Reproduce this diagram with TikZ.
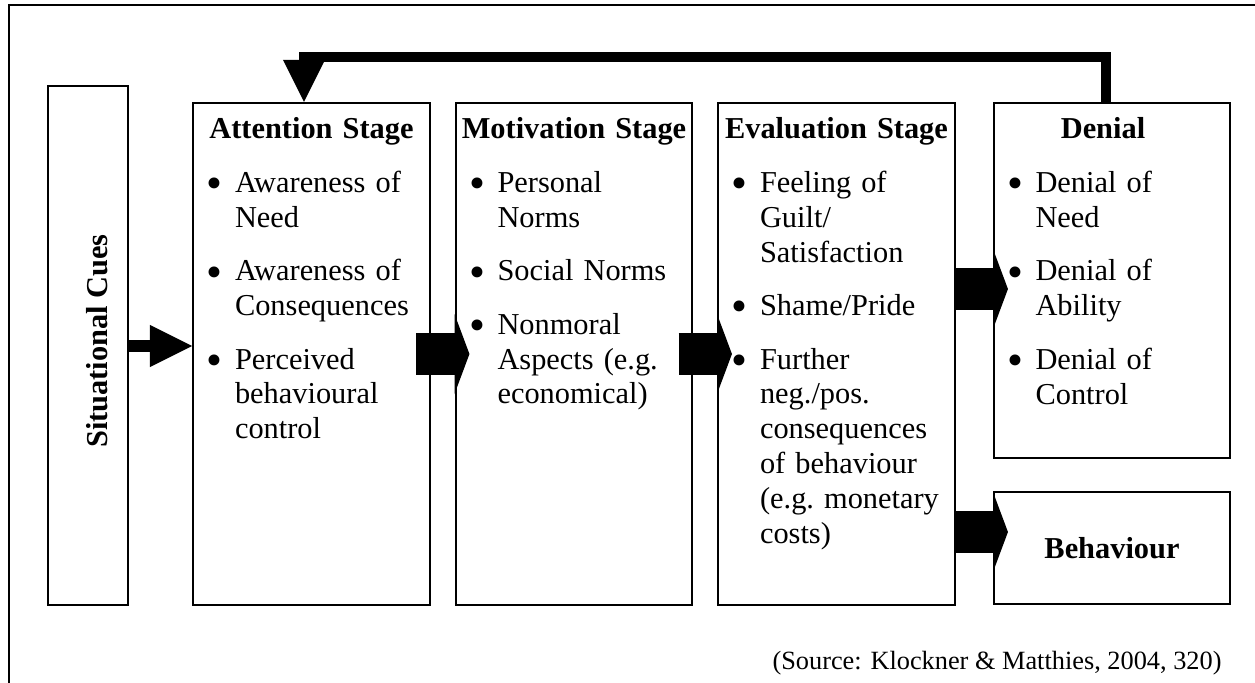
\documentclass[tikz,border=0pt]{standalone}
\usepackage{fontspec}
\setmainfont{Liberation Serif}
\usetikzlibrary{arrows.meta}
\newcommand\bul[1]{\par\vspace{7.3pt}\raggedright\hyphenpenalty=10000\exhyphenpenalty=10000
  \hangindent=11.1pt\hangafter=1\noindent
  \hbox to 11.1pt{\raisebox{-2.5pt}{\scalebox{1.5}{\textbullet}}\hfil}#1\par}

\begin{document}
\begin{tikzpicture}[x=0.395pt, y=-0.395pt,
    stage/.style={draw, line width=0.8pt, inner sep=0pt},
    stagetext/.style={anchor=base, text width=82.6pt, inner sep=0pt,
      font=\fontsize{12}{13.8}\selectfont},
    fat/.style={line width=16.6pt, -{Triangle[length=5.9pt, width=31.6pt, line width=0pt]}},
    cuearrow/.style={line width=4.35pt, -{Triangle[length=16.6pt, width=16.6pt, line width=0pt]}},
    feedback/.style={line width=3.95pt, line join=miter, -{Triangle[length=16.6pt, width=16.6pt, line width=0pt]}}]
    \useasboundingbox (0,0) rectangle (1255,683);
    \draw[line width=0.8pt] (9,683) -- (9,5) -- (1255,5);

    \coordinate (Cue) at (88, 345.5);
    \coordinate (Att) at (311.5, 354);
    \coordinate (Mot) at (574, 354);
    \coordinate (Eva) at (836.5, 354);
    \coordinate (Den) at (1112, 280.5);
    \coordinate (Beh) at (1112, 548);

    \coordinate (Cuelev) at (0, 346);
    \coordinate (Denlev) at (0, 289);
    \coordinate (Behlev) at (0, 532);
    \coordinate (Fbr) at (1106, 57);
    \coordinate (Fbl) at (304, 57);

    \node[stage, minimum width=31.6pt, minimum height=205pt] (cues) at (Cue) {};
    \node[stage, minimum width=93.6pt, minimum height=198.3pt] (att) at (Att) {};
    \node[stage, minimum width=93.6pt, minimum height=198.3pt] (mot) at (Mot) {};
    \node[stage, minimum width=93.6pt, minimum height=198.3pt] (eva) at (Eva) {};
    \node[stage, minimum width=93.2pt, minimum height=140.2pt] (den) at (Den) {};
    \node[stage, minimum width=93.2pt, minimum height=44.2pt,
      font=\fontsize{12}{13.8}\selectfont\bfseries] (beh) at (Beh) {Behaviour};

    \node[rotate=90, inner sep=0pt, font=\fontsize{12}{13.8}\selectfont\bfseries]
      (cuestext) at (97, 341) {Situational Cues};

    \node[stagetext] (atttext) at ([yshift=-14.6pt]att.north)
      {\centerline{\bfseries Attention Stage}\bul{Awareness of\newline Need}\bul{Awareness of\newline Consequences}\bul{Perceived\newline behavioural\newline control}};
    \node[stagetext] (mottext) at ([yshift=-14.6pt]mot.north)
      {\centerline{\bfseries Motivation Stage}\bul{Personal\newline Norms}\bul{Social Norms}\bul{Nonmoral\newline Aspects (e.g.\newline economical)}};
    \node[stagetext] (evatext) at ([yshift=-14.6pt]eva.north)
      {\centerline{\bfseries Evaluation Stage}\bul{Feeling of\newline Guilt/\newline Satisfaction}\bul{Shame/Pride}\bul{Further\newline neg./pos.\newline consequences\newline of behaviour\newline (e.g.~monetary\newline costs)}};
    \node[stagetext] (dentext) at ([yshift=-14.6pt]den.north)
      {\centerline{\bfseries Denial\hspace*{7.1pt}}\bul{Denial of\newline Need}\bul{Denial of\newline Ability}\bul{Denial of\newline Control}};

    \draw[cuearrow] (cues.east |- Cuelev) -- (att.west |- Cuelev);
    \draw[fat] ([xshift=-5.9pt]att.east) -- ([xshift=5.9pt]mot.west);
    \draw[fat] ([xshift=-5.9pt]mot.east) -- ([xshift=5.9pt]eva.west);
    \draw[fat] (eva.east |- Denlev) -- ([xshift=5.9pt]den.west |- Denlev);
    \draw[fat] (eva.east |- Behlev) -- ([xshift=5.9pt]beh.west |- Behlev);
    \draw[feedback] (den.north -| Fbr) -- (Fbr) -- (Fbl) -- (att.north -| Fbl);

    \node[anchor=base east, inner sep=0pt, font=\fontsize{10.4}{12}\selectfont]
      (src) at (1222, 669) {(Source: Klockner \& Matthies, 2004, 320)};
\end{tikzpicture}
\end{document}
